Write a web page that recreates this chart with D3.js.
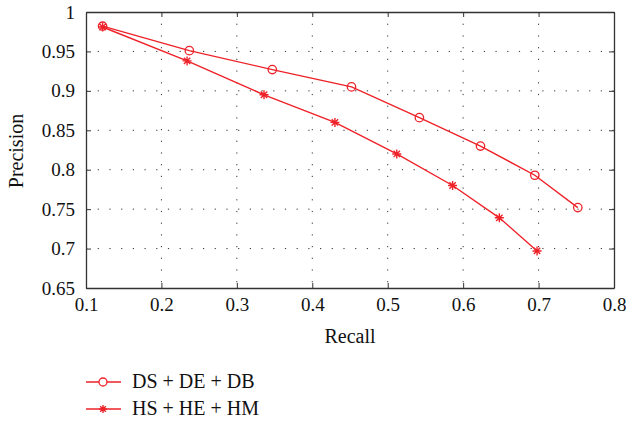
<!DOCTYPE html>
<html>
<head>
<meta charset="utf-8">
<script src="https://cdn.jsdelivr.net/npm/d3@7"></script>
<style>
  body { margin: 0; background: #fff; }
</style>
</head>
<body>
<svg id="chart" width="626" height="426"></svg>
<script>
// values
const recallDS = [0.122, 0.237, 0.347, 0.452, 0.542, 0.623, 0.695, 0.752];
const precDS   = [0.982, 0.951, 0.927, 0.905, 0.866, 0.830, 0.793, 0.752];
const recallHS = [0.122, 0.234, 0.336, 0.430, 0.512, 0.586, 0.648, 0.698];
const precHS   = [0.981, 0.938, 0.895, 0.860, 0.820, 0.780, 0.739, 0.697];
const seriesNames = ["DS + DE + DB", "HS + HE + HM"];
const xTicks = [0.1, 0.2, 0.3, 0.4, 0.5, 0.6, 0.7, 0.8];
const yTicks = [0.65, 0.7, 0.75, 0.8, 0.85, 0.9, 0.95, 1];

const red = "#ee2229";
const serif = '"Liberation Serif", serif';
const svg = d3.select("#chart");
const m = {left: 86, right: 614, top: 12, bottom: 288};

const x = d3.scaleLinear().domain([0.1, 0.8]).range([m.left, m.right]);
const y = d3.scaleLinear().domain([0.65, 1]).range([m.bottom, m.top]);

// dotted grid
const grid = svg.append("g");
grid.selectAll(".gx").data(xTicks.slice(1, -1)).enter().append("line")
    .attr("x1", d => x(d)).attr("x2", d => x(d))
    .attr("y1", m.top).attr("y2", m.bottom)
    .attr("stroke", "#333").attr("stroke-width", 1)
    .attr("stroke-dasharray", "1.2,10.5");
grid.selectAll(".gy").data(yTicks.slice(1, -1)).enter().append("line")
    .attr("y1", d => y(d)).attr("y2", d => y(d))
    .attr("x1", m.left).attr("x2", m.right)
    .attr("stroke", "#333").attr("stroke-width", 1)
    .attr("stroke-dasharray", "1.2,10.5");

// axes (ticks inward, box all round)
const fmt = d => String(+d.toFixed(2));
const styleAxis = g => {
  g.attr("font-family", null);
  g.select(".domain").attr("stroke", "#333").attr("stroke-width", 1.3);
  g.selectAll(".tick line").attr("stroke", "#333");
  g.selectAll("text").style("font-size", "19px").style("font-family", serif).attr("fill", "#111");
};
svg.append("g").attr("transform", `translate(0,${m.bottom})`)
   .call(d3.axisBottom(x).tickValues(xTicks).tickFormat(fmt).tickSizeInner(-5).tickSizeOuter(0).tickPadding(10))
   .call(styleAxis);
svg.append("g").attr("transform", `translate(${m.left},0)`)
   .call(d3.axisLeft(y).tickValues(yTicks).tickFormat(fmt).tickSizeInner(-5).tickSizeOuter(0).tickPadding(11))
   .call(styleAxis);
svg.append("g").attr("transform", `translate(0,${m.top})`)
   .call(d3.axisTop(x).tickValues(xTicks).tickFormat("").tickSizeInner(-5).tickSizeOuter(0))
   .call(styleAxis);
svg.append("g").attr("transform", `translate(${m.right},0)`)
   .call(d3.axisRight(y).tickValues(yTicks).tickFormat("").tickSizeInner(-5).tickSizeOuter(0))
   .call(styleAxis);

// axis titles
svg.append("text").attr("x", 350).attr("y", 343).attr("text-anchor", "middle")
   .style("font-family", serif).style("font-size", "20px").attr("fill", "#111").text("Recall");
svg.append("text").attr("transform", "translate(23,151) rotate(-90)").attr("text-anchor", "middle")
   .style("font-family", serif).style("font-size", "20px").attr("fill", "#111").text("Precision");

const line = d3.line().x(d => x(d[0])).y(d => y(d[1]));
const dsData = recallDS.map((r, i) => [r, precDS[i]]);
const hsData = recallHS.map((r, i) => [r, precHS[i]]);

function starPath(s) {
  const a = s * 0.7071;
  return `M${-s},0L${s},0M0,${-s}L0,${s}M${-a},${-a}L${a},${a}M${-a},${a}L${a},${-a}`;
}

svg.append("path").datum(hsData).attr("d", line)
   .attr("fill", "none").attr("stroke", red).attr("stroke-width", 1.4);
svg.append("path").datum(dsData).attr("d", line)
   .attr("fill", "none").attr("stroke", red).attr("stroke-width", 1.4);

svg.selectAll(".star").data(hsData).enter().append("path")
   .attr("transform", d => `translate(${x(d[0])},${y(d[1])})`)
   .attr("d", starPath(4.5)).attr("stroke", red).attr("stroke-width", 1.4).attr("fill", "none");
svg.selectAll(".circ").data(dsData).enter().append("circle")
   .attr("cx", d => x(d[0])).attr("cy", d => y(d[1])).attr("r", 4.2)
   .attr("fill", "none").attr("stroke", red).attr("stroke-width", 1.3);

// legend
const leg = svg.append("g");
seriesNames.forEach((name, i) => {
  const ly = 382 + i * 27;
  leg.append("line").attr("x1", 86).attr("x2", 121).attr("y1", ly).attr("y2", ly)
     .attr("stroke", red).attr("stroke-width", 1.4);
  if (i === 0) {
    leg.append("circle").attr("cx", 103).attr("cy", ly).attr("r", 4)
       .attr("fill", "#fff").attr("stroke", red).attr("stroke-width", 1.3);
  } else {
    leg.append("path").attr("transform", `translate(103,${ly})`).attr("d", starPath(4))
       .attr("stroke", red).attr("stroke-width", 1.4);
  }
  leg.append("text").attr("x", 132).attr("y", ly + 6)
     .style("font-family", serif).style("font-size", "20px").attr("fill", "#111").text(name);
});
</script>
</body>
</html>
